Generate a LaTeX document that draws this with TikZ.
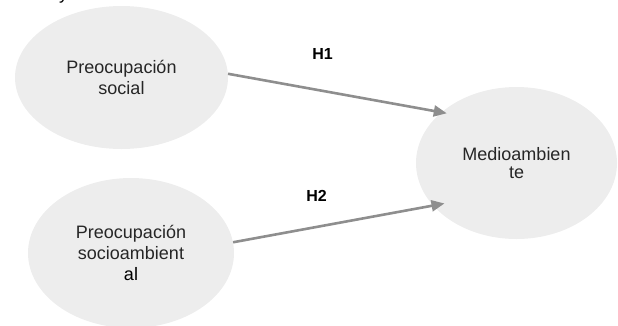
\documentclass[tikz,border=0pt]{standalone}
\usepackage{fontspec}
\setmainfont{Liberation Sans}
\usetikzlibrary{shapes.geometric,arrows.meta}
\definecolor{bubble}{HTML}{EDEDED}
\definecolor{linkgray}{HTML}{8E8E8E}
\definecolor{ink}{HTML}{262626}
\tikzset{
  construct/.style={ellipse, fill=bubble, draw=none, inner sep=0pt,
    align=center, text=ink, font=\fontsize{18}{21}\selectfont},
  path link/.style={draw=linkgray, line width=2.6pt,
    -{Triangle[length=13pt,width=11pt]}},
  hyp/.style={inner sep=0pt, font=\fontsize{16}{18}\selectfont\bfseries, text=black},
}
\begin{document}
\begin{tikzpicture}[x=1pt,y=-1pt]
  \useasboundingbox (0,0) rectangle (618,325);

  % descender of the caption line above the figure
  \node[anchor=base, inner sep=0pt, font=\fontsize{18}{21}\selectfont, text=black]
    (captiontail) at (63.5,-1) {y};

  % latent constructs
  \node[construct, minimum width=213pt, minimum height=143pt]
    (social) at (121.5,77.5) {Preocupación\\social};
  \node[construct, minimum width=206pt, minimum height=150pt]
    (socioamb) at (131,253) {Preocupación\\socioambient\\\textcolor{black}{al}};
  \node[construct, minimum width=201pt, minimum height=152pt,
        font=\fontsize{18}{18.5}\selectfont]
    (medio) at (516.5,163) {Medioambien\\te};

  % hypothesised paths
  \draw[path link, shorten >=-5.5pt] (social.2) -- (medio.146);
  \draw[path link, shorten >=-11.7pt] (socioamb.6) -- (medio.207);

  % hypothesis labels
  \node[hyp] (h1) at (322.5,53.5) {H1};
  \node[hyp] (h2) at (316.5,195.5) {H2};
\end{tikzpicture}
\end{document}
